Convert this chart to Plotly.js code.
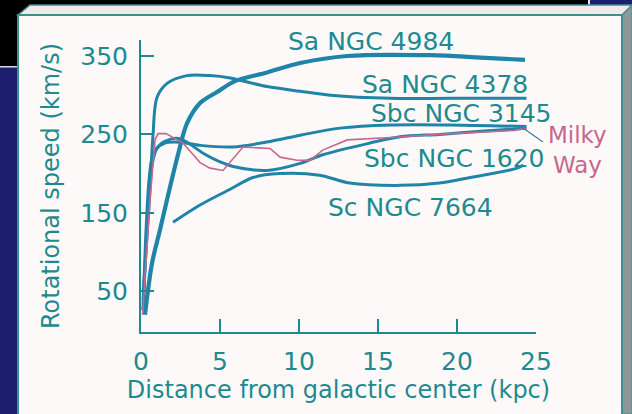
<!DOCTYPE html>
<html><head><meta charset="utf-8">
<script src="https://cdn.plot.ly/plotly-3.0.1.min.js"></script>
<style>html,body{margin:0;padding:0;background:#1e1e6e;overflow:hidden}#chart{width:632px;height:414px}</style>
</head><body><div id="chart"></div>
<script>
// ---- data (distance in kpc, rotational speed in km/s) ----
const names = ["Sa NGC 4984","Sa NGC 4378","Sbc NGC 3145","Sbc NGC 1620","Sc NGC 7664","Milky Way"];
const ngc4984_r = [0.25, 0.7, 1.2, 1.71, 2.34, 2.91, 3.74, 4.81, 5.95, 7.98, 10.07, 13.05, 18.3, 21.5, 24.3];
const ngc4984_v = [20, 86, 128, 172, 224, 264, 290, 304, 318, 329, 341, 350, 351, 348, 345];
const ngc4378_r = [0.13, 0.32, 0.57, 0.76, 1.01, 1.65, 2.91, 4.37, 5.64, 7.98, 10.07, 12.0, 15.8, 19.6, 24.4];
const ngc4378_v = [26, 102, 179, 249, 297, 315, 325, 325, 322, 311, 305, 300, 296, 296, 296];
const ngc3145_r = [0.13, 0.38, 0.57, 0.76, 1.01, 1.52, 2.47, 3.74, 5.83, 8.17, 10.07, 12.6, 15.8, 19.6, 24.4];
const ngc3145_v = [38, 128, 192, 217, 232, 239, 240, 236, 234, 241, 249, 258, 262, 262, 260];
const ngc1620_r = [0.13, 0.32, 0.51, 0.76, 1.39, 2.28, 2.91, 3.93, 5.0, 5.83, 7.98, 10.07, 11.5, 14.5, 16.4, 18.9, 21.5, 24.4];
const ngc1620_v = [26, 128, 192, 224, 240, 245, 240, 226, 215, 209, 204, 213, 224, 239, 247, 250, 254, 258];
const ngc7664_r = [2.03, 3.74, 5.64, 7.09, 8.8, 11.3, 13.2, 16.4, 18.9, 20.6, 23.8, 24.2];
const ngc7664_v = [138, 160, 180, 195, 200, 198, 188, 185, 188, 194, 207, 211];
const milky_r = [0.1, 0.57, 0.89, 1.08, 1.58, 2.66, 3.74, 4.37, 5.19, 6.46, 8.17, 8.8, 9.88, 10.7, 11.5, 13.05, 15.8, 19.6, 23.6, 24.4];
const milky_v = [20, 166, 243, 251, 251, 239, 214, 207, 204, 234, 232, 221, 217, 217, 230, 243, 246, 251, 255, 258];
const xTicks = [0, 5, 10, 15, 20, 25];
const yTicks = [50, 150, 250, 350];

// ---- styling ----
const TEAL_TXT = '#1d8a8f';
const LINE = '#1f84a8';
const PINK = '#c8668e';
const FONT = 'DejaVu Sans, Verdana, sans-serif';
const L = 141, T = 40, W = 395, H = 292;
const px = x => (x - L) / W;
const py = y => (T + H - y) / H;

const traces = [
  {x: ngc4984_r, y: ngc4984_v, w: 4.2, c: LINE, s: 'spline'},
  {x: ngc4378_r, y: ngc4378_v, w: 3, c: LINE, s: 'spline'},
  {x: ngc3145_r, y: ngc3145_v, w: 3, c: LINE, s: 'spline'},
  {x: ngc1620_r, y: ngc1620_v, w: 3, c: LINE, s: 'spline'},
  {x: ngc7664_r, y: ngc7664_v, w: 3, c: LINE, s: 'spline'},
  {x: milky_r, y: milky_v, w: 1.6, c: PINK, s: 'linear'}
].map((t, i) => ({
  type: 'scatter', mode: 'lines', name: names[i], x: t.x, y: t.y,
  line: {color: t.c, width: t.w, shape: t.s, smoothing: 0.9}, hoverinfo: 'skip', cliponaxis: false
}));

function poly(pts, fill, lc, lw) {
  return {type: 'path', xref: 'paper', yref: 'paper', layer: 'below',
    path: 'M' + pts.map(p => px(p[0]) + ',' + py(p[1])).join('L') + 'Z',
    fillcolor: fill, line: {color: lc, width: lw}};
}
function rect(x0, y0, x1, y1, fill, lc, lw) {
  return {type: 'rect', xref: 'paper', yref: 'paper', layer: 'below',
    x0: px(x0), x1: px(x1), y0: py(y1), y1: py(y0), fillcolor: fill, line: {color: lc, width: lw}};
}
const shapes = [
  rect(0, 0, 588, 66, '#000000', 'rgba(0,0,0,0)', 0),
  rect(588, 0, 590, 5, '#e8e8f0', 'rgba(0,0,0,0)', 0),
  rect(0, 66, 18, 67.5, '#d8d8e8', 'rgba(0,0,0,0)', 0),
  poly([[622, 15], [632, 5], [632, 414], [622, 414]], '#8e9898', '#3d8f92', 1),
  poly([[18, 15], [30, 5], [632, 5], [622, 15]], '#f4e9ea', '#3d8f92', 1.5),
  rect(18, 15, 622, 416, '#fdf9f9', '#3d8f92', 2),
  {type: 'line', xref: 'paper', yref: 'paper', x0: px(523), y0: py(128), x1: px(543), y1: py(142),
    line: {color: '#3a7f9a', width: 1.2}}
];

function lab(text, cx, cy, color, size) {
  return {text: text, xref: 'paper', yref: 'paper', x: px(cx), y: py(cy), xanchor: 'center', yanchor: 'middle',
    showarrow: false, font: {family: FONT, size: size, color: color}};
}
const annotations = [
  lab(names[0], 371, 41, TEAL_TXT, 25),
  lab(names[1], 445, 84, TEAL_TXT, 25),
  lab(names[2], 461, 113, TEAL_TXT, 25),
  lab(names[3], 454, 158, TEAL_TXT, 25),
  lab(names[4], 410, 207, TEAL_TXT, 25),
  lab('Milky<br>Way', 577, 150, PINK, 23)
];

const layout = {
  width: 632, height: 414,
  margin: {l: L, r: 632 - L - W, t: T, b: 414 - T - H, pad: 0},
  paper_bgcolor: '#1e1e6e', plot_bgcolor: 'rgba(0,0,0,0)',
  showlegend: false,
  font: {family: FONT, color: TEAL_TXT},
  xaxis: {range: [0, 25], tickvals: xTicks, ticktext: xTicks.map(String), ticks: 'inside', ticklen: 13, tickwidth: 2,
    tickcolor: TEAL_TXT, showline: true, linecolor: TEAL_TXT, linewidth: 2, showgrid: false, zeroline: false,
    tickfont: {family: FONT, size: 25, color: TEAL_TXT}, ticklabelstandoff: 6,
    title: {text: 'Distance from galactic center (kpc)', font: {family: FONT, size: 24, color: TEAL_TXT}, standoff: 6}},
  yaxis: {range: [-2, 370.4], tickvals: yTicks, ticktext: yTicks.map(String), ticks: 'inside', ticklen: 13, tickwidth: 2,
    tickcolor: TEAL_TXT, showline: true, linecolor: TEAL_TXT, linewidth: 2, showgrid: false, zeroline: false,
    tickfont: {family: FONT, size: 25, color: TEAL_TXT}, ticklabelstandoff: 6,
    title: {text: 'Rotational speed (km/s)', font: {family: FONT, size: 24, color: TEAL_TXT}, standoff: 14}},
  shapes: shapes,
  annotations: annotations
};
Plotly.newPlot('chart', traces, layout, {staticPlot: true, displayModeBar: false});
</script>
</body></html>
